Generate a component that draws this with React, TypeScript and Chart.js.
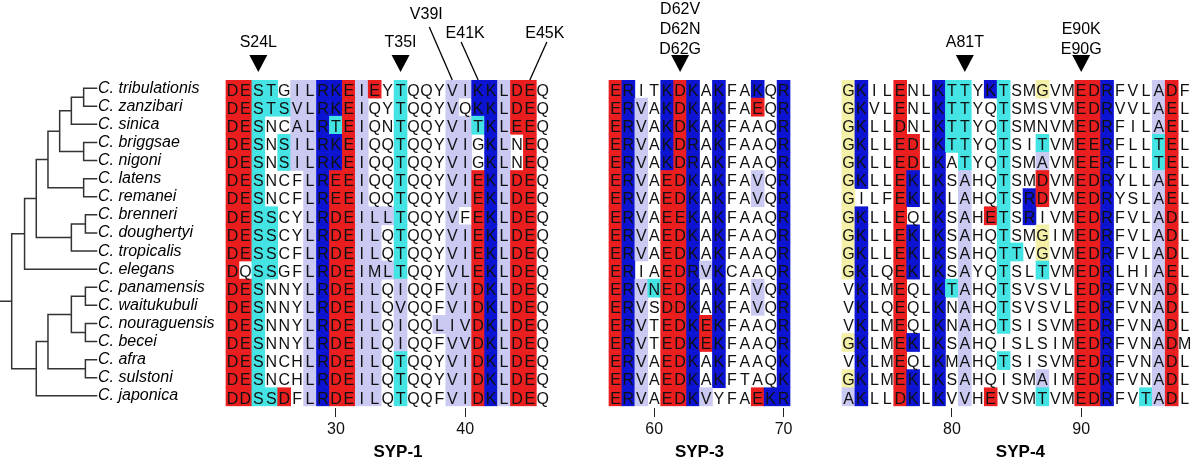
import React, { useEffect, useRef } from 'react';
import { Chart, registerables } from 'chart.js';

Chart.register(...registerables);

// ---------------- data ----------------
const SPECIES = [
  'C. tribulationis', 'C. zanzibari', 'C. sinica', 'C. briggsae', 'C. nigoni',
  'C. latens', 'C. remanei', 'C. brenneri', 'C. doughertyi', 'C. tropicalis',
  'C. elegans', 'C. panamensis', 'C. waitukubuli', 'C. nouraguensis', 'C. becei',
  'C. afra', 'C. sulstoni', 'C. japonica',
];

// residue class codes: r acidic, b basic, c S/T, l hydrophobic, y glycine, w none
const SYP1_START = 22;
const SYP1_SEQ = [
  'DESTGILRKEIEYTQQYVIKKLDEQ',
  'DESTSVLRKEIQYTQQYVQKKLDEQ',
  'DESNCALRTEIQNTQQYVITKLEEQ',
  'DESNSILRKEIQQTQQYVIGKLNEQ',
  'DESNSILRKEIQQTQQYVIGKLNEQ',
  'DESNCFLREEIQQTQQYVIEKLDEQ',
  'DESNCFLREEIQQTQQYVIEKLDEQ',
  'DESSCYLRDEILLTQQYVFEKLDEQ',
  'DESSCYLRDEILQTQQYVIEKLDEQ',
  'DESSCFLRDEILQTQQYVIEKLDEQ',
  'DQSSGFLRDEIMLTQQYVLEKLDEQ',
  'DESNNYLRDEILQIQQFVIDKLDEQ',
  'DESNNYLRDEILQVQQFVIDKLDEQ',
  'DESNNYLRDEILQIQQLIVDKLDEQ',
  'DESNNYLRDEILQIQQFVVDKLDEQ',
  'DESNCHLRDEILQTQQYVIDKLDEQ',
  'DESNCHLRDEILQTQQYVIDKLDEQ',
  'DDSSDFLRDEILQTQQFVIDKLDEQ',
];
const SYP1_CLASS = [
  'rrccwllbbrlrwcwwwllbblrrw',
  'rrcccllbbrlwwcwwwlwbblrrw',
  'rrcwwllbcrlwwcwwwllcblrrw',
  'rrcwcllbbrlwwcwwwllwblwrw',
  'rrcwcllbbrlwwcwwwllwblwrw',
  'rrcwwwlbrrlwwcwwwllrblrrw',
  'rrcwwwlbrrlwwcwwwllrblrrw',
  'rrccwwlbrrlllcwwwlwrblrrw',
  'rrccwwlbrrllwcwwwllrblrrw',
  'rrccwwlbrrllwcwwwllrblrrw',
  'rwccwwlbrrlllcwwwllrblrrw',
  'rrcwwwlbrrllwlwwwllrblrrw',
  'rrcwwwlbrrllwlwwwllrblrrw',
  'rrcwwwlbrrllwlwwlllrblrrw',
  'rrcwwwlbrrllwlwwwllrblrrw',
  'rrcwwwlbrrllwcwwwllrblrrw',
  'rrcwwwlbrrllwcwwwllrblrrw',
  'rrccrwlbrrllwcwwwllrblrrw',
];
const SYP1_TICKS = [30, 40];

const SYP3_START = 57;
const SYP3_SEQ = [
  'ERITKDKAKFAKQR',
  'ERVAKDKAKFAEQR',
  'ERVAKDKAKFAAQR',
  'ERVAKDRAKFAAQR',
  'ERVAKDRAKFAAQR',
  'ERVAEDKAKFAVQR',
  'ERVAEDKAKFAVQR',
  'ERVAEEKAKFAAQR',
  'ERVAEDKAKFAAQR',
  'ERVAEDKAKFAAQR',
  'ERIAEDRVKCAAQR',
  'ERVNEDKAKFAVQR',
  'ERVSDDKAKFAVQR',
  'ERVTEDKEKFAAQR',
  'ERVTEDKEKFAAQR',
  'ERVAEDKAKFAAQK',
  'ERVAEDKAKFTAQK',
  'ERVAEDKVYFAEKR',
];
const SYP3_CLASS = [
  'rbwwbrbwbwwbwb',
  'rblwbrbwbwwrwb',
  'rblwbrbwbwwwwb',
  'rblwbrbwbwwwwb',
  'rblwbrbwbwwwwb',
  'rblwrrbwbwwlwb',
  'rblwrrbwbwwlwb',
  'rblwrrbwbwwwwb',
  'rblwrrbwbwwwwb',
  'rblwrrbwbwwwwb',
  'rbwwrrblbwwwwb',
  'rblcrrbwbwwlwb',
  'rblwrrbwbwwlwb',
  'rblwrrbrbwwwwb',
  'rblwrrbrbwwwwb',
  'rblwrrbwbwwwwb',
  'rblwrrbwbwwwwb',
  'rblwrrblwwwrbb',
];
const SYP3_TICKS = [60, 70];

const SYP4_START = 72;
const SYP4_SEQ = [
  'GKILENLKTTYKTSMGVMEDRFVLADF',
  'GKVLENLKTTYQTSMSVMEDRVVLAEL',
  'GKLLDNLKTTYQTSMNVMEDRFILAEL',
  'GKLLEDLKTTYQTSITVMEERFLLTEL',
  'GKLLEDLKATYQTSMAVMEERFLLTEL',
  'GKLLEKLKSAHQTSMDVMEDRYLLAEL',
  'GILFEKLKLAHQTSRDVMEDRYSLAEL',
  'GKLLEQLKSAHETSRIVMEDRFVLADL',
  'GKLLEKLKSAHQTSMGIMEDRFVLADL',
  'GKLLEKLKSAHQTTVGVMEDRFVLADL',
  'GKLQEKLKSAYQTSLTVMEDRLHIAEL',
  'VKLMEQLKTAHQTSVSVLEDRFVNADL',
  'VKLQEQLKNAHQTSVSVLEDRFVNADL',
  'VKLMEQLKNAHQTSISVMEDRFVNADL',
  'GKLMEKLKSAHQISLSIMEDRFVNADM',
  'VKLMEQLKMAHQTSISVMEDRFVNADL',
  'GKLMEKLKSAHQISMAIMEDRFVNADL',
  'AKLLDKLKVVHEVSMTVMEDRFVTADL',
];
const SYP4_CLASS = [
  'ybwwrwwbccwbcwwywwrrbwwwlrw',
  'ybwwrwwbccwwcwwwwwrrbwwwlrw',
  'ybwwrwwbccwwcwwwwwrrbwwwlrw',
  'ybwwrrwbccwwcwwcwwrrbwwwcrw',
  'ybwwrrwbwcwwcwwlwwrrbwwwcrw',
  'ybwwrbwbwlwwcwwrwwrrbwwwlrw',
  'ywwwrbwbwlwwcwbrwwrrbwwwlrw',
  'ybwwrwwbwlwrcwbwwwrrbwwwlrw',
  'ybwwrbwbwlwwcwwywwrrbwwwlrw',
  'ybwwrbwbwlwwccwywwrrbwwwlrw',
  'ybwwrbwbwlwwcwwcwwrrbwwwlrw',
  'wbwwrwwbclwwcwwwwwrrbwwwlrw',
  'wbwwrwwbwlwwcwwwwwrrbwwwlrw',
  'wbwwrwwbwlwwcwwwwwrrbwwwlrw',
  'ybwwrbwbwlwwwwwwwwrrbwwwlrw',
  'wbwwrwwbwlwwcwwwwwrrbwwwlrw',
  'ybwwrbwbwlwwwwwlwwrrbwwwlrw',
  'lbwwrbwbwlwrwwwcwwrrbwwclrw',
];
const SYP4_TICKS = [80, 90];

const MUTATIONS = [
  { panel: 'SYP-1', residue: 24, labels: ['S24L'], mark: 'arrow' },
  { panel: 'SYP-1', residue: 35, labels: ['T35I'], mark: 'arrow' },
  { panel: 'SYP-1', residue: 39, labels: ['V39I'], mark: 'leader' },
  { panel: 'SYP-1', residue: 41, labels: ['E41K'], mark: 'leader' },
  { panel: 'SYP-1', residue: 45, labels: ['E45K'], mark: 'leader' },
  { panel: 'SYP-3', residue: 62, labels: ['D62V', 'D62N', 'D62G'], mark: 'arrow' },
  { panel: 'SYP-4', residue: 81, labels: ['A81T'], mark: 'arrow' },
  { panel: 'SYP-4', residue: 90, labels: ['E90K', 'E90G'], mark: 'arrow' },
];

// cladogram: node depth + children (numbers are species row indices)
type TNode = { d: number; c: (TNode | number)[] };
const T = (d: number, ...c: (TNode | number)[]): TNode => ({ d, c });
const TREE = T(1.0,
  T(2.1,
    T(3.1,
      T(4.1,
        T(5.1, T(6.1, T(7.15, 0, 1), 2), T(7.15, 3, 4)),
        T(7.15, 5, 6)),
      T(6.1, T(7.3, 7, 8), 9)),
    10),
  T(3.1,
    T(4.1,
      T(6.1, T(7.3, 11, 12), T(7.3, 13, 14)),
      T(7.3, 15, 16)),
    17));
const LEAF_DEPTH = 8.25;

// ---------------- layout / style ----------------
const W = 1200;
const H = 463;
const CELL_PX = 12.93;
const ORIGIN_PX = 226;
const XMIN = -ORIGIN_PX / CELL_PX;
const XMAX = (W - ORIGIN_PX) / CELL_PX;
const TREE_STEP = 11.7 / CELL_PX;
const LABEL_X = (98 - ORIGIN_PX) / CELL_PX;
const FONT = '"Liberation Sans", Arial, Helvetica, sans-serif';
const CLASS_COLOR: Record<string, string> = {
  r: '#EA1E1E',
  b: '#0C14D2',
  c: '#45E4E4',
  l: '#C9C9F1',
  y: '#F5F0A8',
};

const PANELS = [
  { name: 'SYP-1', start: SYP1_START, seq: SYP1_SEQ, cls: SYP1_CLASS, ticks: SYP1_TICKS, leftPx: 226, titleCol: 13.3 },
  { name: 'SYP-3', start: SYP3_START, seq: SYP3_SEQ, cls: SYP3_CLASS, ticks: SYP3_TICKS, leftPx: 609, titleCol: 7.0 },
  { name: 'SYP-4', start: SYP4_START, seq: SYP4_SEQ, cls: SYP4_CLASS, ticks: SYP4_TICKS, leftPx: 842, titleCol: 13.8 },
].map((p) => ({ ...p, off: (p.leftPx - ORIGIN_PX) / CELL_PX }));

const TICK_POS: number[] = [];
const TICK_TEXT: string[] = [];
PANELS.forEach((p) => p.ticks.forEach((t) => {
  TICK_POS.push(p.off + (t - p.start) + 0.5);
  TICK_TEXT.push(String(t));
}));

const cells: { x: [number, number]; y: number }[] = [];
const cellColors: string[] = [];
PANELS.forEach((p) => p.seq.forEach((s, r) => {
  for (let k = 0; k < s.length; k++) {
    const code = p.cls[r][k];
    if (code === 'w') continue;
    cells.push({ x: [p.off + k, p.off + k + 1], y: r });
    cellColors.push(CLASS_COLOR[code]);
  }
}));

const treeX = (d: number) => XMIN + d * TREE_STEP;
const GAP = { x: NaN, y: NaN };
const treePts: { x: number; y: number }[] = [];
function layoutTree(node: TNode): number {
  const ys = node.c.map((ch) => (typeof ch === 'number' ? ch - 0.05 : layoutTree(ch)));
  const ds = node.c.map((ch) => (typeof ch === 'number' ? LEAF_DEPTH : ch.d));
  ys.forEach((y, i) => {
    treePts.push({ x: treeX(node.d), y }, { x: treeX(ds[i]), y }, GAP);
  });
  treePts.push({ x: treeX(node.d), y: ys[0] }, { x: treeX(node.d), y: ys[ys.length - 1] }, GAP);
  return (ys[0] + ys[ys.length - 1]) / 2;
}
const rootY = layoutTree(TREE);
treePts.push({ x: treeX(0), y: rootY }, { x: treeX(TREE.d), y: rootY });

const LEADER: Record<string, { tdx: number; ty: number; ldx: number; ly: number }> = {
  V39I: { tdx: -26, ty: -66.5, ldx: -23, ly: -53 },
  E41K: { tdx: -13, ty: -47.5, ldx: -17, ly: -38 },
  E45K: { tdx: 15, ty: -47.5, ldx: 17, ly: -38 },
};

const textPlugin = {
  id: 'alignmentText',
  afterDraw(chart: any) {
    const { ctx, chartArea } = chart;
    const x = chart.scales.x;
    const y = chart.scales.y;
    ctx.save();
    ctx.textBaseline = 'alphabetic';

    // residue letters
    ctx.font = `16px ${FONT}`;
    ctx.textAlign = 'center';
    ctx.fillStyle = '#111';
    PANELS.forEach((p) => p.seq.forEach((s, r) => {
      const py = y.getPixelForValue(r) + 6.8;
      for (let k = 0; k < s.length; k++) {
        ctx.fillText(s[k], x.getPixelForValue(p.off + k + 0.5), py);
      }
    }));

    // species names
    ctx.font = `italic 16px ${FONT}`;
    ctx.textAlign = 'left';
    ctx.fillStyle = '#000';
    SPECIES.forEach((name, r) => {
      ctx.fillText(name, x.getPixelForValue(LABEL_X), y.getPixelForValue(r) + 3.6);
    });

    // mutation annotations
    const top = chartArea.top;
    ctx.font = `16px ${FONT}`;
    ctx.textAlign = 'center';
    ctx.fillStyle = '#000';
    ctx.strokeStyle = '#000';
    MUTATIONS.forEach((m) => {
      const p = PANELS.find((q) => q.name === m.panel)!;
      const cx = x.getPixelForValue(p.off + (m.residue - p.start) + 0.5);
      if (m.mark === 'arrow') {
        ctx.beginPath();
        ctx.moveTo(cx - 9, top - 25);
        ctx.lineTo(cx + 9, top - 25);
        ctx.lineTo(cx, top - 8);
        ctx.closePath();
        ctx.fill();
        const n = m.labels.length;
        const lastC = n === 1 ? top - 39 : top - 32;
        m.labels.forEach((t, j) => {
          ctx.fillText(t, cx, lastC - (n - 1 - j) * 20 + 5.8);
        });
      } else {
        const g = LEADER[m.labels[0]];
        ctx.fillText(m.labels[0], cx + g.tdx, top + g.ty + 5.8);
        ctx.beginPath();
        ctx.lineWidth = 1.3;
        ctx.moveTo(cx + g.ldx, top + g.ly);
        ctx.lineTo(cx, top);
        ctx.stroke();
      }
    });

    // panel titles
    ctx.font = `bold 17px ${FONT}`;
    ctx.textAlign = 'center';
    PANELS.forEach((p) => {
      ctx.fillText(p.name, x.getPixelForValue(p.off + p.titleCol), 451 + 6.1);
    });
    ctx.restore();
  },
};

export default function App() {
  const ref = useRef<HTMLCanvasElement>(null);
  useEffect(() => {
    document.body.style.margin = '0';
    const chart = new Chart(ref.current as HTMLCanvasElement, {
      type: 'bar',
      data: {
        datasets: [
          {
            type: 'bar',
            indexAxis: 'y',
            data: cells as any,
            backgroundColor: cellColors,
            borderWidth: 0,
            barPercentage: 1,
            categoryPercentage: 1,
            xAxisID: 'x',
            yAxisID: 'y',
          } as any,
          {
            type: 'scatter',
            data: treePts,
            showLine: true,
            borderColor: '#333',
            borderWidth: 1.5,
            borderCapStyle: 'square',
            pointRadius: 0,
            pointHoverRadius: 0,
            spanGaps: false,
            xAxisID: 'x',
            yAxisID: 'y',
          } as any,
        ],
      },
      options: {
        responsive: false,
        maintainAspectRatio: false,
        animation: false,
        events: [],
        layout: { padding: { top: 80, bottom: 23, left: 0, right: 0 } },
        plugins: {
          legend: { display: false },
          tooltip: { enabled: false },
          title: { display: false },
        },
        scales: {
          x: {
            type: 'linear',
            position: 'bottom',
            min: XMIN,
            max: XMAX,
            bounds: 'data',
            offset: false,
            afterBuildTicks: (s: any) => {
              s.ticks = TICK_POS.map((v) => ({ value: v }));
            },
            afterFit: (s: any) => {
              s.height = 32;
            },
            grid: {
              display: true,
              drawOnChartArea: false,
              drawTicks: true,
              tickLength: 9,
              color: '#222',
              lineWidth: 1,
              offset: false,
            },
            border: { display: false },
            ticks: {
              autoSkip: false,
              maxRotation: 0,
              minRotation: 0,
              padding: 3,
              color: '#111',
              font: { family: FONT, size: 16 },
              callback: (_v: any, i: number) => TICK_TEXT[i],
            },
          } as any,
          y: {
            type: 'linear',
            reverse: true,
            min: -0.5,
            max: 17.62,
            display: false,
            offset: false,
            afterBuildTicks: (s: any) => {
              s.ticks = SPECIES.map((_, i) => ({ value: i }));
            },
          } as any,
        },
      },
      plugins: [textPlugin],
    });
    return () => chart.destroy();
  }, []);
  return (
    <div style={{ position: 'absolute', left: 0, top: 0, width: W, height: H, background: '#fff' }}>
      <canvas ref={ref} width={W} height={H} style={{ display: 'block', width: W, height: H }} />
    </div>
  );
}
